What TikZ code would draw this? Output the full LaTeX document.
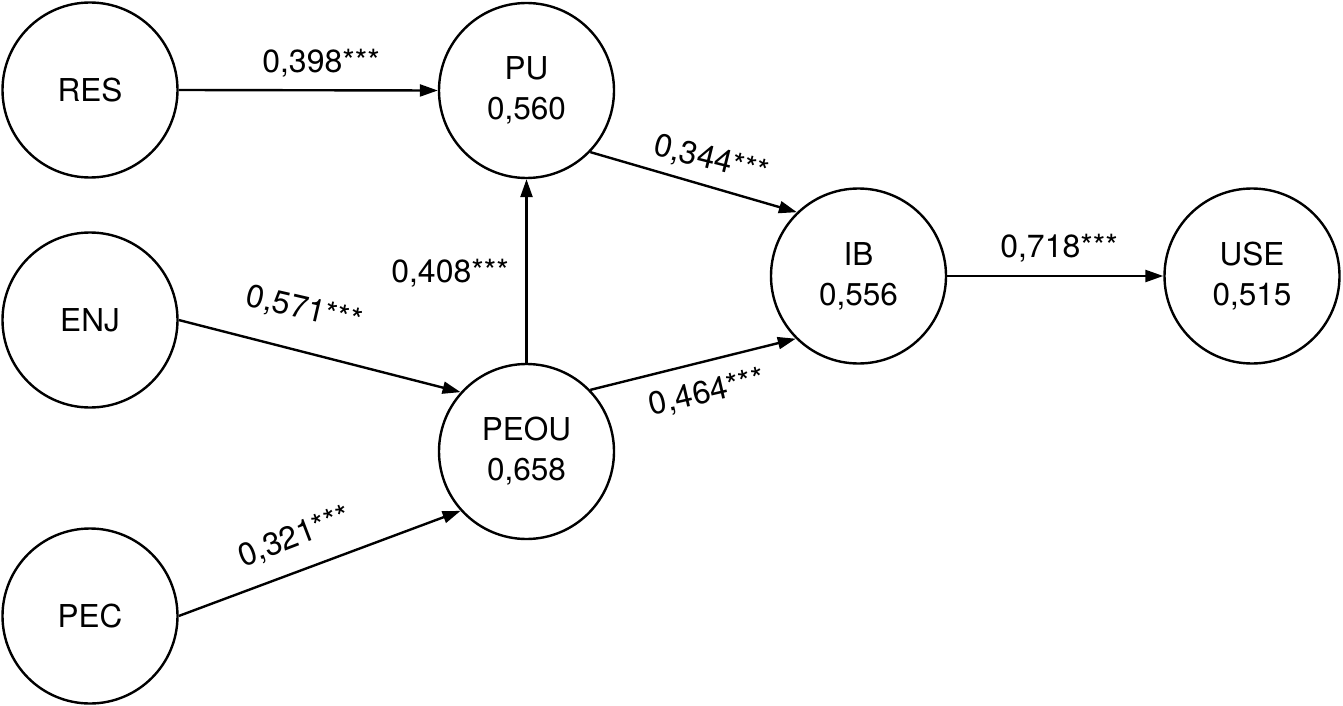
\documentclass[tikz,border=0pt]{standalone}
\usepackage{fontspec}
\setmainfont{TeX Gyre Heros}
\usetikzlibrary{arrows.meta}
\tikzset{
  lv/.style={circle, draw, line width=2.4pt, minimum size=175pt, inner sep=0pt, align=center,
    font=\fontsize{31.5}{40}\selectfont},
  path/.style={line width=2.4pt, -{Triangle[length=18pt,width=12pt]}},
  coef/.style={anchor=base, inner sep=0pt, font=\fontsize{32}{36}\selectfont}
}
\begin{document}
\begin{tikzpicture}[x=1pt,y=-1pt]
\useasboundingbox (0,0) rectangle (1343,706);
\node[lv] (RES) at (90,90) {RES};
\node[lv] (PU) at (526.5,90.5) {PU\\0,560};
\node[lv] (ENJ) at (90,320) {ENJ};
\node[lv] (PEOU) at (526.5,451.5) {PEOU\\0,658};
\node[lv] (PEC) at (90,616) {PEC};
\node[lv] (IB) at (858.5,276) {IB\\0,556};
\node[lv] (USE) at (1252,276) {USE\\0,515};

\draw[path] (RES.east) -- (PU.west);
\draw[path] (PEOU.north) -- (PU.south);
\draw[path] (ENJ.east) -- (PEOU.138);
\draw[path] (PEC.east) -- (PEOU.222);
\draw[path] (PU.-44) -- (IB.134);
\draw[path] (PEOU.44) -- (IB.225);
\draw[path] (IB.east) -- (USE.west);

\node[coef] (c398) at (321,72.5) {0,398***};
\node[coef] (c408) at (450,282.5) {0,408***};
\node[coef] (c718) at (1059,257) {0,718***};
\node[coef, rotate=-13] (c571) at (302,319) {0,571***};
\node[coef, rotate=-14] (c344) at (709,169) {0,344***};
\node[coef, rotate=13] (c464) at (709,402) {0,464***};
\node[coef, rotate=21] (c321) at (298,546) {0,321***};
\end{tikzpicture}
\end{document}
